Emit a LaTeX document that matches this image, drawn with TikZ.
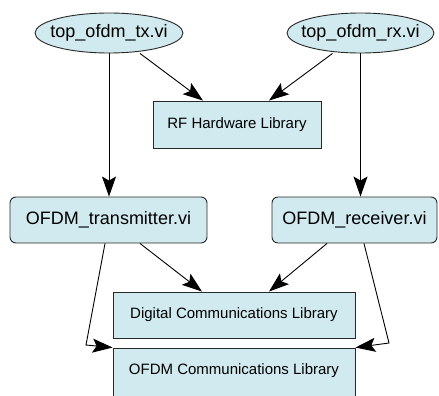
\documentclass[tikz,border=0pt]{standalone}
\usepackage{fontspec}
\setmainfont{Liberation Sans}
\usetikzlibrary{shapes.geometric,arrows.meta}
\definecolor{boxfill}{RGB}{208,234,240}
\definecolor{edgecol}{RGB}{40,40,40}
\begin{document}
\begin{tikzpicture}[x=1pt,y=1pt,
  big/.style={font=\fontsize{18}{20}\selectfont},
  small/.style={font=\fontsize{15}{17}\selectfont},
  vinode/.style={ellipse,draw=edgecol,fill=boxfill,line width=0.9pt,inner xsep=-8pt,inner ysep=0pt,minimum width=148pt,minimum height=40pt,big},
  libbox/.style={rectangle,draw=edgecol,fill=boxfill,line width=0.9pt,inner sep=0pt,minimum height=46pt,small},
  subbox/.style={rectangle,rounded corners=6pt,draw=edgecol,fill=boxfill,line width=0.9pt,inner sep=0pt,minimum height=46pt,big}]
\useasboundingbox (0,0) rectangle (439,-396);
\clip (0,0) rectangle (439,-396);
\node[vinode] (tx) at (109,-33) {top\_ofdm\_tx.vi};
\node[vinode,minimum width=147pt] (rx) at (360.5,-33) {top\_ofdm\_rx.vi};
\node[libbox,minimum width=168pt,minimum height=47pt] (rf) at (237,-124.5) {RF Hardware Library};
\node[subbox,minimum width=197pt] (txv) at (108.5,-220) {OFDM\_transmitter.vi};
\node[subbox,minimum width=165pt] (rxv) at (354.5,-220) {OFDM\_receiver.vi};
\node[libbox,minimum width=242pt] (dig) at (234,-315) {Digital Communications Library};
\node[libbox,minimum width=242pt,minimum height=52pt] (ofdm) at (234,-374) {};
\node[small] (ofdmt) at (234,-371) {OFDM Communications Library};
\coordinate (bendl) at (86,-345);
\coordinate (bendr) at (389,-343);
\begin{scope}[line width=0.9pt,>={Stealth[length=20pt,width=14pt,inset=4pt]}]
\draw[->] ([xshift=31pt]tx.south) -- ([xshift=-34pt]rf.north);
\draw[->] ([xshift=-28pt]rx.south) -- ([xshift=32pt]rf.north);
\draw[->] (tx.south) -- (tx.south |- txv.north);
\draw[->] (rx.south) -- (rx.south |- rxv.north);
\draw[->] ([xshift=31.5pt]txv.south) -- ([xshift=-32pt]dig.north);
\draw[->] ([xshift=-27.5pt]rxv.south) -- ([xshift=35pt]dig.north);
\draw[->] ([xshift=-3.5pt]txv.south) -- (bendl) -- (ofdm.north west);
\draw[->] ([xshift=9.5pt]rxv.south) -- (bendr) -- (ofdm.north east);
\end{scope}
\end{tikzpicture}
\end{document}
